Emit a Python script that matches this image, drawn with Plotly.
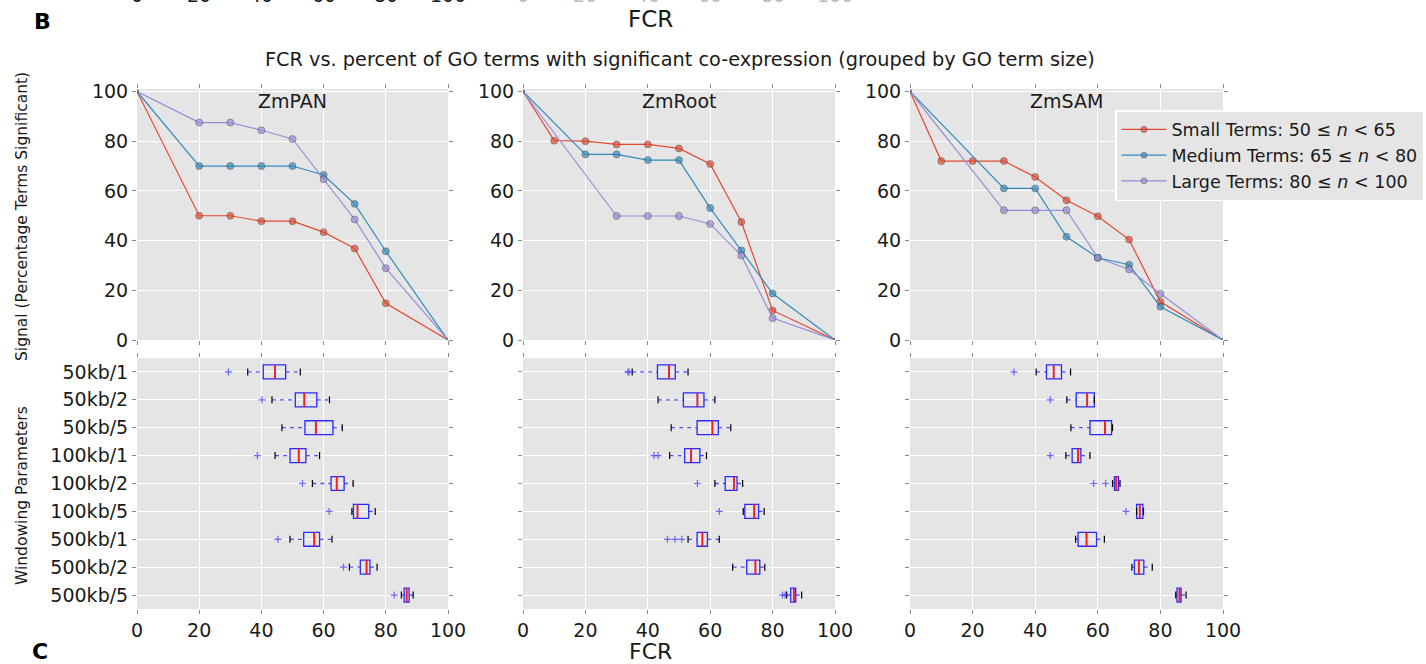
import plotly.graph_objects as go

# ---------------- data ----------------
panels = ["ZmPAN", "ZmRoot", "ZmSAM"]
series_names = ["Small Terms: 50 \u2264 <i>n</i> < 65",
                "Medium Terms: 65 \u2264 <i>n</i> < 80",
                "Large Terms: 80 \u2264 <i>n</i> < 100"]
series_colors = ["#E24A33", "#348ABD", "#988ED5"]

# FCR (x) and signal (y) per panel, per series
pan_small_x = [0, 20, 30, 40, 50, 60, 70, 80, 100]
pan_small_y = [100, 50.0, 50.0, 47.8, 47.8, 43.4, 36.8, 14.8, 0]
pan_medium_x = [0, 20, 30, 40, 50, 60, 70, 80, 100]
pan_medium_y = [100, 70.0, 70.0, 70.0, 70.0, 66.4, 54.8, 35.7, 0]
pan_large_x = [0, 20, 30, 40, 50, 60, 70, 80, 100]
pan_large_y = [100, 87.5, 87.5, 84.4, 80.9, 64.7, 48.5, 28.9, 0]

root_small_x = [0, 10, 20, 30, 40, 50, 60, 70, 80, 100]
root_small_y = [100, 80.2, 80.0, 78.7, 78.7, 77.1, 70.8, 47.5, 11.9, 0]
root_medium_x = [0, 20, 30, 40, 50, 60, 70, 80, 100]
root_medium_y = [100, 74.7, 74.7, 72.4, 72.4, 53.1, 36.0, 18.7, 0]
root_large_x = [0, 30, 40, 50, 60, 70, 80, 100]
root_large_y = [100, 49.9, 49.9, 49.9, 46.7, 34.0, 8.8, 0]

sam_small_x = [0, 10, 20, 30, 40, 50, 60, 70, 80, 100]
sam_small_y = [100, 72.0, 72.0, 72.0, 65.6, 56.2, 49.8, 40.4, 15.4, 0]
sam_medium_x = [0, 30, 40, 50, 60, 70, 80, 100]
sam_medium_y = [100, 61.0, 61.0, 41.5, 33.1, 30.3, 13.4, 0]
sam_large_x = [0, 30, 40, 50, 60, 70, 80, 100]
sam_large_y = [100, 52.2, 52.2, 52.2, 33.1, 28.4, 18.6, 0]

line_data = [
    [(pan_small_x, pan_small_y), (pan_medium_x, pan_medium_y), (pan_large_x, pan_large_y)],
    [(root_small_x, root_small_y), (root_medium_x, root_medium_y), (root_large_x, root_large_y)],
    [(sam_small_x, sam_small_y), (sam_medium_x, sam_medium_y), (sam_large_x, sam_large_y)],
]

window_labels = ["50kb/1", "50kb/2", "50kb/5", "100kb/1", "100kb/2", "100kb/5",
                 "500kb/1", "500kb/2", "500kb/5"]

# box-plot summaries (FCR) per panel: whisker low, q1, median, q3, whisker high, outliers
pan_wlo = [35.6, 43.4, 46.6, 44.4, 56.4, 69.1, 49.2, 68.3, 85.0]
pan_q1 = [40.6, 50.9, 54.0, 49.2, 62.4, 69.6, 53.6, 71.8, 85.9]
pan_med = [44.4, 53.8, 57.5, 52.0, 64.2, 70.9, 57.0, 73.8, 86.7]
pan_q3 = [47.8, 57.8, 63.0, 54.3, 66.6, 74.5, 58.7, 74.9, 87.5]
pan_whi = [52.5, 61.9, 66.0, 58.7, 69.5, 76.6, 62.7, 77.2, 88.8]
pan_out = [[29.4], [40.2], [], [38.7], [53.2], [61.8], [45.3], [66.4], [82.7]]

root_wlo = [35.0, 43.3, 47.5, 47.0, 61.5, 70.6, 52.9, 67.2, 84.5]
root_q1 = [43.1, 51.4, 55.8, 51.8, 64.8, 71.1, 55.8, 71.7, 85.8]
root_med = [46.8, 55.9, 60.7, 53.9, 67.6, 74.1, 57.5, 74.5, 86.8]
root_q3 = [48.8, 58.0, 62.6, 56.7, 68.6, 75.5, 59.1, 75.9, 87.4]
root_whi = [52.9, 61.5, 66.6, 58.8, 70.4, 77.3, 62.9, 77.5, 89.3]
root_out = [[33.6, 34.0], [], [], [42.0, 43.3], [55.9], [62.9], [46.3, 48.7, 50.9], [], [83.2, 84.0]]

sam_wlo = [40.3, 50.1, 51.4, 49.8, 64.7, 72.4, 52.9, 70.9, 84.9]
sam_q1 = [43.6, 53.1, 57.5, 51.8, 65.3, 72.4, 53.7, 71.7, 85.3]
sam_med = [45.9, 56.6, 62.3, 53.7, 65.9, 73.4, 56.4, 73.1, 86.1]
sam_q3 = [48.4, 58.9, 64.4, 54.6, 66.6, 74.4, 59.6, 74.7, 86.6]
sam_whi = [51.3, 58.9, 64.7, 57.5, 67.1, 74.6, 62.1, 77.4, 88.2]
sam_out = [[33.2], [44.8], [], [44.8], [58.7, 62.5], [69.0], [], [], []]

box_data = [
    (pan_wlo, pan_q1, pan_med, pan_q3, pan_whi, pan_out),
    (root_wlo, root_q1, root_med, root_q3, root_whi, root_out),
    (sam_wlo, sam_q1, sam_med, sam_q3, sam_whi, sam_out),
]

fcr_ticks = [0, 20, 40, 60, 80, 100]

# ---------------- layout geometry ----------------
W, H = 1426, 664
x_px = [(137, 448), (523, 835), (910, 1223)]
top_px = (89, 340)
bot_px = (358, 609)


def xd(a, b):
    return [a / W, b / W]


def yd(a, b):
    return [1 - b / H, 1 - a / H]


fig = go.Figure()
layout = {}

BG = "#E5E5E5"
TXT = "#1a1a1a"
TICKFONT = dict(family="DejaVu Sans", size=19, color=TXT)
row_pos = list(range(1, len(window_labels) + 1))

for i in range(3):
    xt = f"x{2*i+1}" if i > 0 else "x"
    yt = f"y{2*i+1}" if i > 0 else "y"
    xb = f"x{2*i+2}"
    yb = f"y{2*i+2}"
    xt_key = "xaxis" if i == 0 else f"xaxis{2*i+1}"
    yt_key = "yaxis" if i == 0 else f"yaxis{2*i+1}"
    xb_key = f"xaxis{2*i+2}"
    yb_key = f"yaxis{2*i+2}"

    common = dict(showline=False, zeroline=False, gridcolor="white", gridwidth=1,
                  ticks="outside", ticklen=4, tickcolor="#8a8a8a", mirror="ticks",
                  tickfont=TICKFONT, automargin=False)
    layout[xt_key] = dict(domain=xd(*x_px[i]), anchor=yt, range=[0, 100],
                          tickvals=fcr_ticks, showticklabels=False, **common)
    layout[yt_key] = dict(domain=yd(*top_px), anchor=xt, range=[0, 101],
                          tickvals=fcr_ticks, showticklabels=True, **common)
    layout[xb_key] = dict(domain=xd(*x_px[i]), anchor=yb, range=[0, 100],
                          tickvals=fcr_ticks, showticklabels=True, **common)
    layout[yb_key] = dict(domain=yd(*bot_px), anchor=xb, range=[9.5, 0.5],
                          tickvals=row_pos, ticktext=window_labels,
                          showticklabels=(i == 0), showgrid=True, **common)

    # ---- line panels ----
    for s, (xs, ys) in enumerate(line_data[i]):
        sizes = [3] + [7] * (len(xs) - 2) + [3]
        fig.add_trace(go.Scatter(
            x=xs, y=ys, mode="lines+markers", xaxis=xt, yaxis=yt,
            name=series_names[s], legendgroup=series_names[s],
            showlegend=(i == 2),
            line=dict(color=series_colors[s], width=1.2),
            marker=dict(color=series_colors[s], size=sizes,
                        line=dict(color="#333333", width=0.6)),
        ))

    # ---- box panels ----
    wlo, q1, med, q3, whi, outl = box_data[i]
    fig.add_trace(go.Box(
        orientation="h", y=row_pos, q1=q1, median=med, q3=q3,
        lowerfence=q1, upperfence=q3, width=0.5,
        xaxis=xb, yaxis=yb, showlegend=False,
        line=dict(color="#2a2aff", width=1.3), fillcolor="rgba(0,0,0,0)",
        boxpoints=False, hoverinfo="skip",
    ))
    # whiskers (dashed)
    wx, wy = [], []
    for k in range(len(row_pos)):
        wx += [wlo[k], q1[k], None, q3[k], whi[k], None]
        wy += [row_pos[k], row_pos[k], None, row_pos[k], row_pos[k], None]
    fig.add_trace(go.Scatter(x=wx, y=wy, mode="lines", xaxis=xb, yaxis=yb,
                             showlegend=False, hoverinfo="skip",
                             line=dict(color="rgba(40,40,255,0.8)", width=1.3, dash="4px,4px")))
    # caps
    fig.add_trace(go.Scatter(x=wlo + whi, y=row_pos + row_pos, mode="markers",
                             xaxis=xb, yaxis=yb, showlegend=False, hoverinfo="skip",
                             marker=dict(symbol="line-ns-open", size=5, color="black",
                                         line=dict(color="black", width=1.2))))
    # medians
    fig.add_trace(go.Scatter(x=med, y=row_pos, mode="markers",
                             xaxis=xb, yaxis=yb, showlegend=False, hoverinfo="skip",
                             marker=dict(symbol="line-ns-open", size=10, color="#ff1a1a",
                                         line=dict(color="#ff1a1a", width=1.8))))
    # outliers
    ox, oy = [], []
    for k, vals in enumerate(outl):
        for v in vals:
            ox.append(v)
            oy.append(row_pos[k])
    fig.add_trace(go.Scatter(x=ox, y=oy, mode="markers",
                             xaxis=xb, yaxis=yb, showlegend=False, hoverinfo="skip",
                             marker=dict(symbol="cross-thin-open", size=5,
                                         color="rgba(60,60,255,0.75)",
                                         line=dict(color="rgba(60,60,255,0.75)", width=1.2))))

# ---------------- annotations ----------------
def note(text, xp, yp, size, color=TXT, angle=0):
    return dict(text=text, x=xp / W, y=1 - yp / H, xref="paper", yref="paper",
                xanchor="center", yanchor="middle", showarrow=False, textangle=angle,
                font=dict(family="DejaVu Sans", size=size, color=color))


ann = []
for i, name in enumerate(panels):
    cx = (x_px[i][0] + x_px[i][1]) / 2
    ann.append(note(name, cx, 101, 19))

ann += [
    note("FCR vs. percent of GO terms with significant co-expression (grouped by GO term size)",
         680, 59, 19.3),
    note("FCR", 650, 19, 23),
    note("FCR", 650, 651, 22),
    note("<b>B</b>", 42, 22, 22, "black"),
    note("<b>C</b>", 40, 651, 22, "black"),
    note("Signal (Percentage Terms Significant)", 22, 217, 15.5, angle=-90),
    note("Windowing Parameters", 22, 496, 15.5, angle=-90),
]

# cut-off tick labels of the figure above (only their lower edge is visible)
for j, t in enumerate(fcr_ticks):
    px = 137 + j * (448 - 137) / 5
    ann.append(note(str(t), px, -5, 19))
    px2 = 523 + j * (835 - 523) / 5
    ann.append(note(str(t), px2, -5, 19, "#bbbbbb"))

fig.update_layout(
    width=W, height=H, margin=dict(l=0, r=0, t=0, b=0, autoexpand=False),
    paper_bgcolor="white", plot_bgcolor=BG,
    font=dict(family="DejaVu Sans", color=TXT),
    annotations=ann,
    legend=dict(x=1115 / W, y=1 - 110 / H, xanchor="left", yanchor="top",
                bgcolor=BG, bordercolor="white", borderwidth=1.5,
                font=dict(family="DejaVu Sans", size=17.5, color=TXT),
                itemwidth=45, tracegroupgap=0),
    **layout,
)

fig.write_html("out.html")
